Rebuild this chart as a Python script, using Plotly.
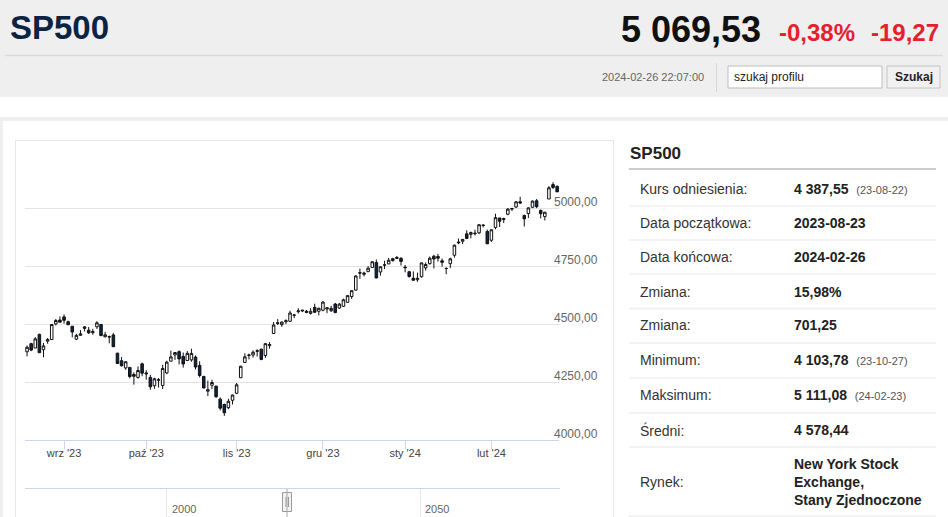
import plotly.graph_objects as go

W, H = 948, 517


def X(p):
    return p / W


def Y(p):
    return 1 - p / H


# ---------------- data ----------------
DATES = [
    "2023-08-21", "2023-08-22", "2023-08-23", "2023-08-24", "2023-08-25", "2023-08-28", "2023-08-29", "2023-08-30", "2023-08-31",
    "2023-09-01", "2023-09-05", "2023-09-06", "2023-09-07", "2023-09-08", "2023-09-11", "2023-09-12", "2023-09-13", "2023-09-14",
    "2023-09-15", "2023-09-18", "2023-09-19", "2023-09-20", "2023-09-21", "2023-09-22", "2023-09-25", "2023-09-26", "2023-09-27",
    "2023-09-28", "2023-09-29",
    "2023-10-02", "2023-10-03", "2023-10-04", "2023-10-05", "2023-10-06", "2023-10-09", "2023-10-10", "2023-10-11", "2023-10-12",
    "2023-10-13", "2023-10-16", "2023-10-17", "2023-10-18", "2023-10-19", "2023-10-20", "2023-10-23", "2023-10-24", "2023-10-25",
    "2023-10-26", "2023-10-27", "2023-10-30", "2023-10-31",
    "2023-11-01", "2023-11-02", "2023-11-03", "2023-11-06", "2023-11-07", "2023-11-08", "2023-11-09", "2023-11-10", "2023-11-13",
    "2023-11-14", "2023-11-15", "2023-11-16", "2023-11-17", "2023-11-20", "2023-11-21", "2023-11-22", "2023-11-24", "2023-11-27",
    "2023-11-28", "2023-11-29", "2023-11-30",
    "2023-12-01", "2023-12-04", "2023-12-05", "2023-12-06", "2023-12-07", "2023-12-08", "2023-12-11", "2023-12-12", "2023-12-13",
    "2023-12-14", "2023-12-15", "2023-12-18", "2023-12-19", "2023-12-20", "2023-12-21", "2023-12-22", "2023-12-26", "2023-12-27",
    "2023-12-28", "2023-12-29",
    "2024-01-02", "2024-01-03", "2024-01-04", "2024-01-05", "2024-01-08", "2024-01-09", "2024-01-10", "2024-01-11", "2024-01-12",
    "2024-01-16", "2024-01-17", "2024-01-18", "2024-01-19", "2024-01-22", "2024-01-23", "2024-01-24", "2024-01-25", "2024-01-26",
    "2024-01-29", "2024-01-30", "2024-01-31",
    "2024-02-01", "2024-02-02", "2024-02-05", "2024-02-06", "2024-02-07", "2024-02-08", "2024-02-09", "2024-02-12", "2024-02-13",
    "2024-02-14", "2024-02-15", "2024-02-16", "2024-02-20", "2024-02-21", "2024-02-22", "2024-02-23", "2024-02-26",
]

OPEN = [
    4380.3, 4415.3, 4396.4, 4455.2, 4389.4, 4426.0, 4432.8, 4500.3, 4517.0,
    4530.6, 4510.1, 4490.4, 4434.6, 4451.3, 4481.0, 4473.3, 4462.7, 4487.8, 4498.0, 4445.1, 4445.4, 4452.8,
    4374.4, 4341.7, 4310.6, 4312.9, 4282.6, 4269.7, 4328.2,
    4284.5, 4269.8, 4233.8, 4259.3, 4234.8, 4289.0, 4339.8, 4366.6, 4380.9, 4360.5, 4342.4, 4345.2,
    4357.4, 4321.4, 4273.9, 4210.4, 4235.8, 4232.4, 4176.0, 4152.9, 4139.4, 4171.3,
    4201.3, 4268.3, 4334.2, 4364.3, 4366.2, 4384.4, 4391.4, 4364.2, 4406.7, 4459.0, 4505.3, 4497.1,
    4509.6, 4511.7, 4538.8, 4553.0, 4555.8, 4554.9, 4545.6, 4571.8, 4554.9,
    4559.4, 4564.4, 4557.3, 4586.2, 4568.8, 4576.2, 4593.4, 4618.3, 4646.2, 4721.0, 4714.2, 4725.6,
    4743.7, 4764.7, 4724.3, 4753.9, 4758.9, 4773.5, 4786.4, 4782.9,
    4745.2, 4725.1, 4697.4, 4690.6, 4703.7, 4741.9, 4759.9, 4792.1, 4791.2, 4772.4, 4739.1, 4760.1,
    4796.3, 4853.4, 4856.8, 4888.6, 4886.7, 4888.9, 4893.0, 4925.9, 4899.2,
    4861.1, 4916.1, 4957.2, 4950.2, 4973.1, 4995.2, 5004.2, 5026.8, 4967.9, 4976.4, 5003.1, 5031.1,
    4989.3, 4963.0, 5038.8, 5100.9, 5093.0,
]

HIGH = [
    4407.6, 4418.6, 4443.2, 4458.3, 4418.5, 4439.6, 4500.1, 4521.7, 4532.3,
    4541.3, 4514.3, 4490.4, 4457.8, 4473.5, 4490.8, 4487.1, 4479.4, 4512.0, 4498.0, 4466.4, 4449.9, 4461.0,
    4375.7, 4357.4, 4338.5, 4313.0, 4292.1, 4317.3, 4333.2,
    4300.6, 4281.2, 4268.5, 4267.1, 4324.1, 4341.7, 4385.5, 4378.6, 4385.9, 4377.1, 4383.3, 4393.6,
    4364.2, 4339.5, 4276.6, 4255.8, 4259.4, 4232.4, 4183.6, 4156.7, 4177.5, 4195.6,
    4245.6, 4319.7, 4373.6, 4372.2, 4386.3, 4391.2, 4393.4, 4418.0, 4421.8, 4508.7, 4521.2, 4512.0,
    4520.1, 4557.1, 4542.1, 4568.4, 4560.3, 4560.5, 4568.1, 4587.6, 4569.9,
    4599.4, 4572.4, 4578.6, 4590.7, 4590.9, 4609.2, 4623.7, 4643.9, 4709.7, 4738.6, 4725.5, 4749.5,
    4768.7, 4778.0, 4748.7, 4772.9, 4784.7, 4785.4, 4793.3, 4788.4,
    4754.3, 4729.3, 4726.8, 4721.5, 4764.5, 4765.5, 4790.8, 4798.5, 4802.4, 4782.3, 4744.2, 4785.8,
    4842.1, 4868.4, 4866.5, 4903.7, 4898.2, 4906.7, 4929.3, 4931.1, 4906.8,
    4907.0, 4975.3, 4957.2, 4957.8, 4999.9, 5000.4, 5030.1, 5048.4, 4971.3, 5002.5, 5032.7, 5038.7,
    4993.7, 4983.2, 5094.4, 5111.1, 5097.7,
]

LOW = [
    4360.3, 4382.8, 4396.4, 4375.6, 4356.3, 4415.0, 4431.7, 4493.6, 4507.4,
    4501.4, 4496.0, 4442.4, 4430.5, 4448.4, 4467.9, 4456.8, 4453.5, 4478.7, 4447.2, 4442.1, 4416.6, 4401.4,
    4329.2, 4316.5, 4302.7, 4266.0, 4238.6, 4264.4, 4274.9,
    4260.2, 4216.5, 4220.5, 4225.9, 4219.6, 4283.8, 4339.6, 4345.3, 4325.4, 4312.0, 4342.4, 4337.5,
    4303.8, 4269.7, 4223.0, 4189.2, 4219.4, 4181.4, 4127.9, 4103.8, 4132.9, 4153.1,
    4197.7, 4268.3, 4334.2, 4347.5, 4355.4, 4359.8, 4343.9, 4353.3, 4393.8, 4459.0, 4495.3, 4487.8,
    4499.7, 4510.4, 4525.5, 4545.1, 4552.8, 4546.3, 4540.5, 4547.2, 4537.2,
    4554.7, 4546.7, 4551.7, 4546.5, 4565.2, 4574.1, 4593.4, 4608.1, 4643.2, 4694.3, 4704.7, 4725.6,
    4743.7, 4697.8, 4708.4, 4736.8, 4758.5, 4768.9, 4781.0, 4752.0,
    4722.7, 4699.7, 4687.5, 4682.1, 4699.8, 4730.4, 4756.2, 4739.6, 4769.0, 4747.1, 4714.8, 4740.6,
    4785.9, 4844.1, 4844.4, 4865.9, 4869.3, 4881.5, 4887.4, 4916.3, 4845.2,
    4853.5, 4908.0, 4918.1, 4934.9, 4969.1, 4987.1, 5000.3, 5016.8, 4920.3, 4956.5, 4999.4, 4999.5,
    4955.0, 4946.0, 5038.8, 5081.5, 5068.9,
]

CLOSE = [
    4399.8, 4387.6, 4436.0, 4376.3, 4405.7, 4433.3, 4497.6, 4514.9, 4507.7,
    4515.8, 4496.8, 4465.5, 4451.1, 4457.5, 4487.5, 4461.9, 4467.4, 4505.1, 4450.3, 4453.5, 4444.0, 4402.2,
    4330.0, 4320.1, 4337.4, 4273.5, 4274.5, 4299.7, 4288.1,
    4288.4, 4229.5, 4263.8, 4258.2, 4308.5, 4335.7, 4358.2, 4377.0, 4349.6, 4327.8, 4373.6, 4373.2,
    4314.6, 4278.0, 4224.2, 4217.0, 4247.7, 4186.8, 4137.2, 4117.4, 4166.8, 4193.8,
    4237.9, 4317.8, 4358.3, 4366.0, 4378.4, 4382.8, 4347.4, 4415.2, 4411.6, 4495.7, 4502.9, 4508.2,
    4514.0, 4547.4, 4538.2, 4556.6, 4559.3, 4550.4, 4554.9, 4550.6, 4567.8,
    4594.6, 4569.8, 4567.2, 4549.3, 4585.6, 4604.4, 4622.4, 4643.7, 4707.1, 4719.6, 4719.2, 4740.6,
    4768.4, 4698.4, 4746.8, 4754.6, 4774.8, 4781.6, 4783.4, 4769.8,
    4742.8, 4704.8, 4688.7, 4697.2, 4763.5, 4756.5, 4783.5, 4780.2, 4783.8, 4766.0, 4739.2, 4780.9,
    4839.8, 4850.4, 4864.6, 4868.6, 4894.2, 4891.0, 4927.9, 4925.0, 4845.7,
    4906.2, 4958.6, 4942.8, 4954.2, 4995.1, 4997.9, 5026.6, 5021.8, 4953.2, 5000.6, 5029.7, 5005.6,
    4975.5, 4981.8, 5087.0, 5088.8, 5069.5,
]

MONTH_LABELS = ["wrz '23", "paź '23", "lis '23", "gru '23", "sty '24", "lut '24"]
Y_TICKS = [4000, 4250, 4500, 4750, 5000, 5250]
Y_LABELS = ["4000,00", "4250,00", "4500,00", "4750,00", "5000,00", ""]

TICKER = "SP500"
LAST_PRICE = "5 069,53"
CHANGE_PCT = "-0,38%"
CHANGE_ABS = "-19,27"
TIMESTAMP = "2024-02-26 22:07:00"
SEARCH_PLACEHOLDER = "szukaj profilu"
SEARCH_BUTTON = "Szukaj"

TABLE_LABELS = ["Kurs odniesienia:", "Data początkowa:", "Data końcowa:", "Zmiana:", "Zmiana:",
                "Minimum:", "Maksimum:", "Średni:", "Rynek:"]
TABLE_VALUES = ["4 387,55", "2023-08-23", "2024-02-26", "15,98%", "701,25",
                "4 103,78", "5 111,08", "4 578,44", "New York Stock<br>Exchange,<br>Stany Zjednoczone"]
TABLE_NOTES = ["(23-08-22)", "", "", "", "", "(23-10-27)", "(24-02-23)", "", ""]

NAV_LABELS = ["2000", "2050"]

# ---------------- figure ----------------
idx = list(range(len(DATES)))
month_starts = [i for i in idx[1:] if DATES[i][5:7] != DATES[i - 1][5:7]]

FONT = "Liberation Sans, Arial, sans-serif"

fig = go.Figure()
fig.add_trace(go.Candlestick(
    x=idx, open=OPEN, high=HIGH, low=LOW, close=CLOSE,
    increasing=dict(line=dict(color="#111111", width=1), fillcolor="#ffffff"),
    decreasing=dict(line=dict(color="#111111", width=1), fillcolor="#0c2548"),
    whiskerwidth=0, showlegend=False, hoverinfo="skip",
))

shapes = []


def rect(x0, y0, x1, y1, fill=None, line=None, lw=1):
    shapes.append(dict(type="rect", xref="paper", yref="paper",
                       x0=X(x0), x1=X(x1), y0=Y(y1), y1=Y(y0),
                       fillcolor=fill if fill else "rgba(0,0,0,0)",
                       line=dict(color=line if line else "rgba(0,0,0,0)", width=lw if line else 0),
                       layer="below"))


def hline(x0, x1, y, color, w=1):
    shapes.append(dict(type="line", xref="paper", yref="paper",
                       x0=X(x0), x1=X(x1), y0=Y(y), y1=Y(y), line=dict(color=color, width=w)))


def vline(x, y0, y1, color, w=1):
    shapes.append(dict(type="line", xref="paper", yref="paper",
                       x0=X(x), x1=X(x), y0=Y(y0), y1=Y(y1), line=dict(color=color, width=w)))


# header
rect(0, 0, W, 97, fill="#efefef")
hline(5, 943, 55.5, "#dadada", 1.5)
vline(716.5, 63, 92, "#d6d6d6")
rect(728, 66, 882, 88, fill="#ffffff", line="#bdbdbd")
rect(887, 66, 940, 88, fill="#f1f1f1", line="#c4c4c4")
# content panel border
rect(0, 117, W, 121, fill="#efefef")
rect(0, 117, 3, H, fill="#efefef")
# chart box
rect(15.5, 140.5, 613.5, H + 5, line="#e6e6e6")
# navigator
hline(25, 560, 488.5, "#cdd6e4")
vline(166.5, 489, H, "#e6e6e6")
vline(420.5, 489, H, "#e6e6e6")
vline(287, 489, H, "#a8a8a8")
rect(282.5, 492.5, 291.5, 511.5, fill="#f2f2f2", line="#9a9a9a")
vline(286, 497, 507, "#9a9a9a")
vline(288.5, 497, 507, "#9a9a9a")
# table lines
hline(629, 936, 169, "#cccccc", 2)
for ys in [206, 240, 274, 308.5, 343, 378, 413, 447, 516]:
    hline(629, 936, ys, "#efefef", 1.5)

ann = []


def text(x, y, s, size, color, xanchor="left", weight="normal", family=FONT):
    ann.append(dict(xref="paper", yref="paper", x=X(x), y=Y(y), text=s, showarrow=False,
                    xanchor=xanchor, yanchor="middle", align="left",
                    font=dict(family=family, size=size, color=color, weight=weight)))


text(8, 28, TICKER, 33, "#0c2342", weight="bold")
text(763, 29, LAST_PRICE, 36, "#111111", xanchor="right", weight="bold")
text(777, 32, CHANGE_PCT, 24, "#e5202c", weight="bold")
text(941, 32, CHANGE_ABS, 24, "#e5202c", xanchor="right", weight="bold")
text(706, 77, TIMESTAMP, 11, "#666666", xanchor="right")
text(732, 77, SEARCH_PLACEHOLDER, 12, "#222222")
text(913.5, 77, SEARCH_BUTTON, 12, "#222222", xanchor="center", weight="bold")

# table
text(628, 153, TICKER, 17, "#222222", weight="bold")
row_y = [189, 223, 257, 292, 325, 360, 395, 430, 482]
for lab, val, note, yy in zip(TABLE_LABELS, TABLE_VALUES, TABLE_NOTES, row_y):
    text(638, yy, lab, 14, "#333333")
    s = "<b>%s</b>" % val
    if note:
        s += "&nbsp;&nbsp;<span style='font-size:11px;color:#555555'>%s</span>" % note
    text(792, yy, s, 14, "#222222")

# navigator labels
text(170, 509, NAV_LABELS[0], 11, "#666666")
text(423, 509, NAV_LABELS[1], 11, "#666666")

fig.update_layout(
    width=W, height=H, margin=dict(l=0, r=0, t=0, b=0, autoexpand=False),
    paper_bgcolor="#ffffff", plot_bgcolor="#ffffff",
    separators=", ", shapes=shapes, annotations=ann,
    font=dict(family=FONT),
    xaxis=dict(domain=[X(25), X(559)], range=[-0.5, len(DATES) - 0.55], automargin=False,
               rangeslider=dict(visible=False), showgrid=False, zeroline=False,
               tickmode="array", tickvals=month_starts, ticktext=MONTH_LABELS,
               ticks="outside", ticklen=8, tickcolor="#ccd6eb", tickwidth=1,
               showline=True, linecolor="#ccd6eb", linewidth=1,
               tickfont=dict(size=11, color="#444444", family=FONT), ticklabelstandoff=-5),
    yaxis=dict(domain=[Y(440), Y(150)], range=[4000, 5250], side="right", automargin=False,
               tickmode="array", tickvals=Y_TICKS, ticktext=Y_LABELS,
               showgrid=True, gridcolor="#e3e3e3", gridwidth=1, zeroline=False,
               showline=False, ticks="",
               tickfont=dict(size=12, color="#666666", family=FONT),
               ticklabelshift=-6, ticklabelstandoff=-6),
    boxgap=0.12,
)

fig.write_html("out.html", config={"displayModeBar": False},
               post_script="document.body.style.margin='0';document.body.style.overflow='hidden';")
